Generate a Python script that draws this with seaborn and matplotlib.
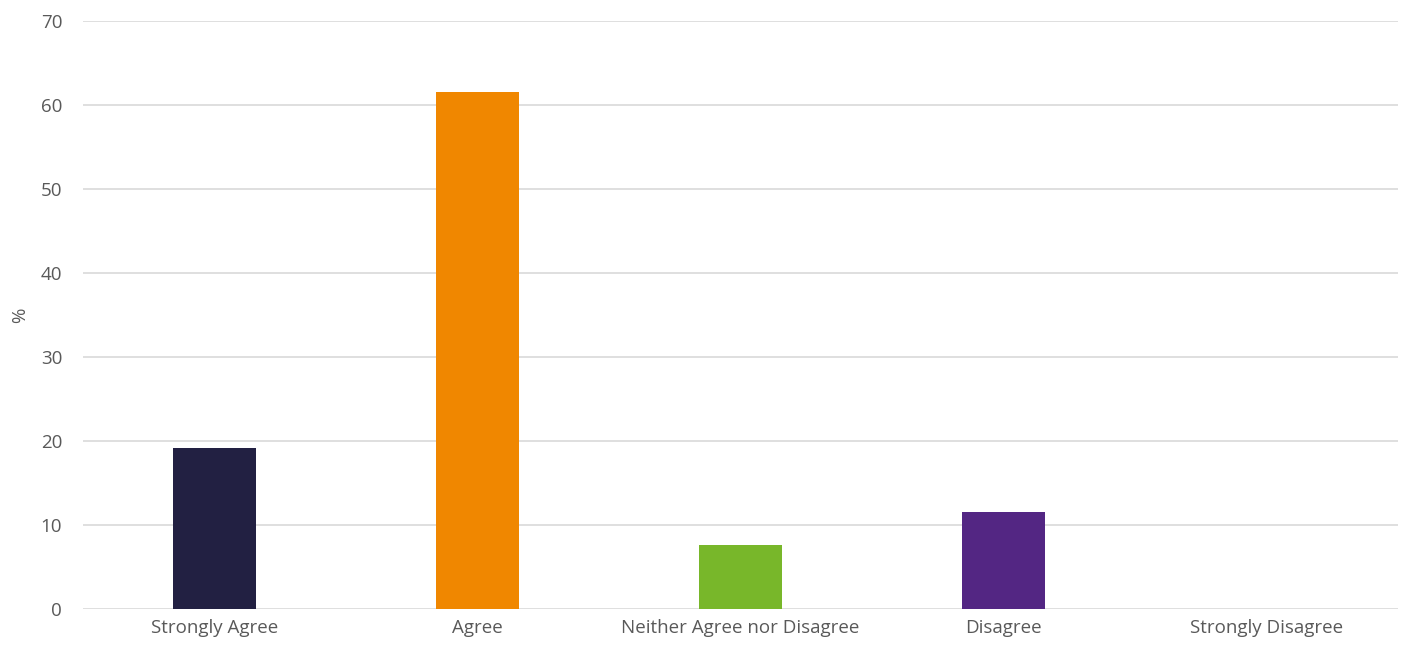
import pandas as pd
import seaborn as sns
import matplotlib.pyplot as plt

sns.set_theme(style="whitegrid")
plt.rcParams['font.family'] = ['Open Sans', 'DejaVu Sans']

categories = ["Strongly Agree", "Agree", "Neither Agree nor Disagree", "Disagree", "Strongly Disagree"]
percent = [19.2, 61.5, 7.6, 11.5, 0.0]
colors = ["#222042", "#F08700", "#78B72A", "#532683", "#9E9E9E"]

df = pd.DataFrame({"response": categories, "pct": percent})

fig = plt.figure(figsize=(14.1, 6.51), dpi=100)
ax = fig.add_axes([83 / 1410, 1 - 609 / 651, (1398 - 83) / 1410, (609 - 21) / 651])

sns.barplot(data=df, x="response", y="pct", hue="response", palette=colors,
            legend=False, width=0.316, saturation=1, linewidth=0, ax=ax)

ax.set_ylim(0, 70)
ax.set_yticks(range(0, 71, 10))
ax.set_xlim(-0.5, 4.5)
ax.set_xlabel("")
ax.set_ylabel("%", color="#595959", fontsize=13.5, labelpad=8)
ax.tick_params(axis="both", colors="#595959", labelsize=13.5, length=0)
ax.tick_params(axis="y", pad=15)
ax.tick_params(axis="x", pad=7)
ax.grid(axis="y", color="#D9D9D9", linewidth=1.2)
ax.grid(axis="x", visible=False)
ax.set_axisbelow(True)
for s in ax.spines.values():
    s.set_visible(False)

fig.savefig("out.png", dpi=100, facecolor="white")
